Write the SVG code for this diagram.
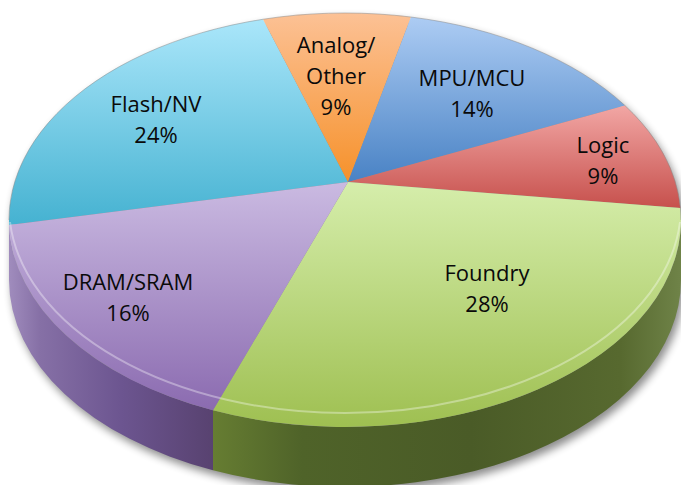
<svg xmlns="http://www.w3.org/2000/svg" width="681" height="485" viewBox="0 0 681 485">
<defs>
<style>
.lbl{font-family:"Open Sans","Liberation Sans",sans-serif;font-size:22px;fill:#0a0a0a;text-anchor:middle}
</style>
<filter id="blur" x="-10%" y="-10%" width="120%" height="130%"><feGaussianBlur stdDeviation="4"/></filter>
<linearGradient id="gFlash" gradientUnits="userSpaceOnUse" x1="0" y1="20" x2="0" y2="225"><stop offset="0" stop-color="#aae6fa"/><stop offset="1" stop-color="#45b2d1"/></linearGradient>
<linearGradient id="gAnalog" gradientUnits="userSpaceOnUse" x1="0" y1="10" x2="0" y2="180"><stop offset="0" stop-color="#fcc297"/><stop offset="1" stop-color="#f6922c"/></linearGradient>
<linearGradient id="gMPU" gradientUnits="userSpaceOnUse" x1="0" y1="15" x2="0" y2="180"><stop offset="0" stop-color="#aecdf4"/><stop offset="1" stop-color="#4a83c5"/></linearGradient>
<linearGradient id="gLogic" gradientUnits="userSpaceOnUse" x1="0" y1="100" x2="0" y2="212"><stop offset="0" stop-color="#f4aba9"/><stop offset="1" stop-color="#c54d49"/></linearGradient>
<linearGradient id="gFoundry" gradientUnits="userSpaceOnUse" x1="0" y1="180" x2="0" y2="425"><stop offset="0" stop-color="#d6eeac"/><stop offset="1" stop-color="#9fc052"/></linearGradient>
<linearGradient id="gDRAM" gradientUnits="userSpaceOnUse" x1="0" y1="180" x2="0" y2="410"><stop offset="0" stop-color="#cbbbe2"/><stop offset="1" stop-color="#8b6bb0"/></linearGradient>
<linearGradient id="sFoundry" gradientUnits="userSpaceOnUse" x1="213" y1="0" x2="681" y2="0"><stop offset="0" stop-color="#667d32"/><stop offset="0.19" stop-color="#4f6329"/><stop offset="0.55" stop-color="#4a5b27"/><stop offset="0.87" stop-color="#57692f"/><stop offset="1" stop-color="#6f8348"/></linearGradient>
<linearGradient id="sDRAM" gradientUnits="userSpaceOnUse" x1="9" y1="0" x2="213" y2="0"><stop offset="0" stop-color="#a08cbd"/><stop offset="0.15" stop-color="#8670a6"/><stop offset="0.55" stop-color="#6c5590"/><stop offset="1" stop-color="#584270"/></linearGradient>
</defs>
<path d="M9,220 A336,207 0 0 1 681,220 L681,280 A336,207 0 0 1 9,280 Z" transform="translate(3,5)" fill="#000" opacity="0.45" filter="url(#blur)"/>
<g id="side">
<path d="M9,220 A336,207 0 0 0 213,410.3 L213,470.3 A336,207 0 0 1 9,280 Z" fill="url(#sDRAM)"/>
<path d="M213,410.3 A336,207 0 0 0 681,220 L681,280 A336,207 0 0 1 213,470.3 Z" fill="url(#sFoundry)"/>
</g>
<g id="flash">
<path d="M348,182 L9.1,225 A336,207 0 0 1 263,19.2 Z" fill="url(#gFlash)"/>
<text class="lbl" x="156" y="112">Flash/NV</text>
<text class="lbl" x="156" y="143">24%</text>
</g>
<g id="analog">
<path d="M348,182 L263,19.2 A336,207 0 0 1 411,17 Z" fill="url(#gAnalog)"/>
<text class="lbl" x="336" y="53">Analog/</text>
<text class="lbl" x="336" y="84">Other</text>
<text class="lbl" x="336" y="115">9%</text>
</g>
<g id="mpu">
<path d="M348,182 L411,17 A336,207 0 0 1 625,105.6 Z" fill="url(#gMPU)"/>
<text class="lbl" x="472" y="86">MPU/MCU</text>
<text class="lbl" x="472" y="117">14%</text>
</g>
<g id="logic">
<path d="M348,182 L625,105.6 A336,207 0 0 1 680.4,208 Z" fill="url(#gLogic)"/>
<text class="lbl" x="603" y="153">Logic</text>
<text class="lbl" x="603" y="184">9%</text>
</g>
<g id="foundry">
<path d="M348,182 L680.4,208 A336,207 0 0 1 213,410.3 Z" fill="url(#gFoundry)"/>
<text class="lbl" x="487" y="281">Foundry</text>
<text class="lbl" x="487" y="312">28%</text>
</g>
<g id="dram">
<path d="M348,182 L213,410.3 A336,207 0 0 1 9.1,225 Z" fill="url(#gDRAM)"/>
<text class="lbl" x="128" y="290">DRAM/SRAM</text>
<text class="lbl" x="128" y="321">16%</text>
</g>
<path d="M10,222 A336,207 0 0 0 680,222" fill="none" stroke="#ffffff" stroke-opacity="0.35" stroke-width="2"/>
<path d="M9,220 A336,207 0 0 1 681,220" fill="none" stroke="#8a8a8a" stroke-opacity="0.5" stroke-width="1"/>
</svg>
